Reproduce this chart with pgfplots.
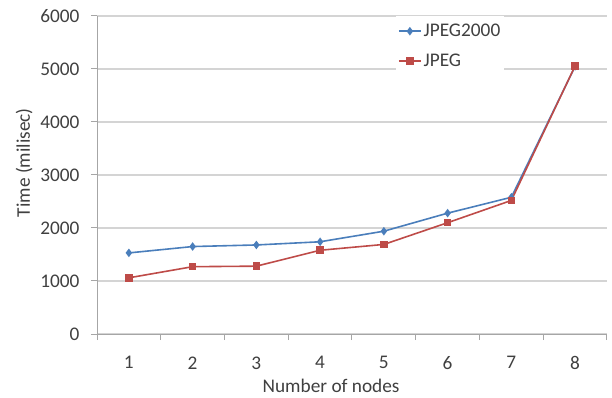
\documentclass[border=0pt]{standalone}
\usepackage{fontspec}
\setmainfont{Carlito}
\usepackage{pgfplots}
\pgfplotsset{compat=1.18}
\definecolor{jpblue}{HTML}{4A7EBB}
\definecolor{jpred}{HTML}{BE4B48}
\definecolor{gridc}{HTML}{D4D4D4}
\definecolor{axc}{HTML}{A6A6A6}
\definecolor{txt}{HTML}{404040}
\newcommand\cf{\fontsize{19.3bp}{23bp}\selectfont}
\begin{document}
\begin{tikzpicture}
\useasboundingbox (0,0) rectangle (612bp,398bp);
\begin{axis}[
  at={(97bp,64bp)}, anchor=south west,
  width=510bp, height=318bp, scale only axis,
  xmin=0.5, xmax=8.5, ymin=0, ymax=6000,
  xtick={1,...,8},
  minor xtick={0.5,1.5,...,8.5},
  ytick={0,1000,...,6000},
  axis x line*=bottom, axis y line*=left,
  axis line style={axc, line width=1bp},
  ymajorgrids, grid style={gridc, line width=1.2bp},
  tick align=outside,
  x tick style={draw=none},
  minor x tick style={axc, line width=1bp, draw=axc},
  minor tick length=6bp,
  y tick style={axc, line width=1bp},
  major tick length=6bp,
  scaled y ticks=false,
  /pgf/number format/assume math mode=true,
  /pgf/number format/1000 sep={},
  ticklabel style={font=\cf, text=txt},
  xticklabel style={anchor=north, yshift=-13bp},
  yticklabel style={anchor=east, xshift=-8bp},
  xlabel={Number of nodes},
  ylabel={Time (milisec)},
  label style={font=\cf, text=txt},
  xlabel style={at={(axis description cs:0.459,-0.1855)}, anchor=base},
  ylabel style={at={(axis description cs:-0.143,0.539)}, anchor=center, rotate=0},
  legend cell align=left,
  legend style={draw=none, fill=white, font=\cf, text=txt,
    at={(axis description cs:0.586,1.0)}, anchor=north west,
    row sep=12bp, inner xsep=2bp, inner ysep=6bp,
    nodes={inner xsep=2bp}},
  legend image code/.code={\draw[mark repeat=2,mark phase=2,#1] plot coordinates {(0bp,0bp) (11bp,0bp) (22bp,0bp)};},
]
\addplot[jpblue, line width=1.6bp, mark=diamond*, mark size=3bp, mark options={fill=jpblue, draw=jpblue}]
  coordinates {(1,1530) (2,1650) (3,1680) (4,1740) (5,1940) (6,2280) (7,2580) (8,5050)};
\addlegendentry{JPEG2000}
\addplot[jpred, line width=1.6bp, mark=square*, mark size=3bp, mark options={fill=jpred, draw=jpred}]
  coordinates {(1,1060) (2,1270) (3,1280) (4,1580) (5,1690) (6,2100) (7,2520) (8,5060)};
\addlegendentry{JPEG}
\end{axis}
\end{tikzpicture}
\end{document}
